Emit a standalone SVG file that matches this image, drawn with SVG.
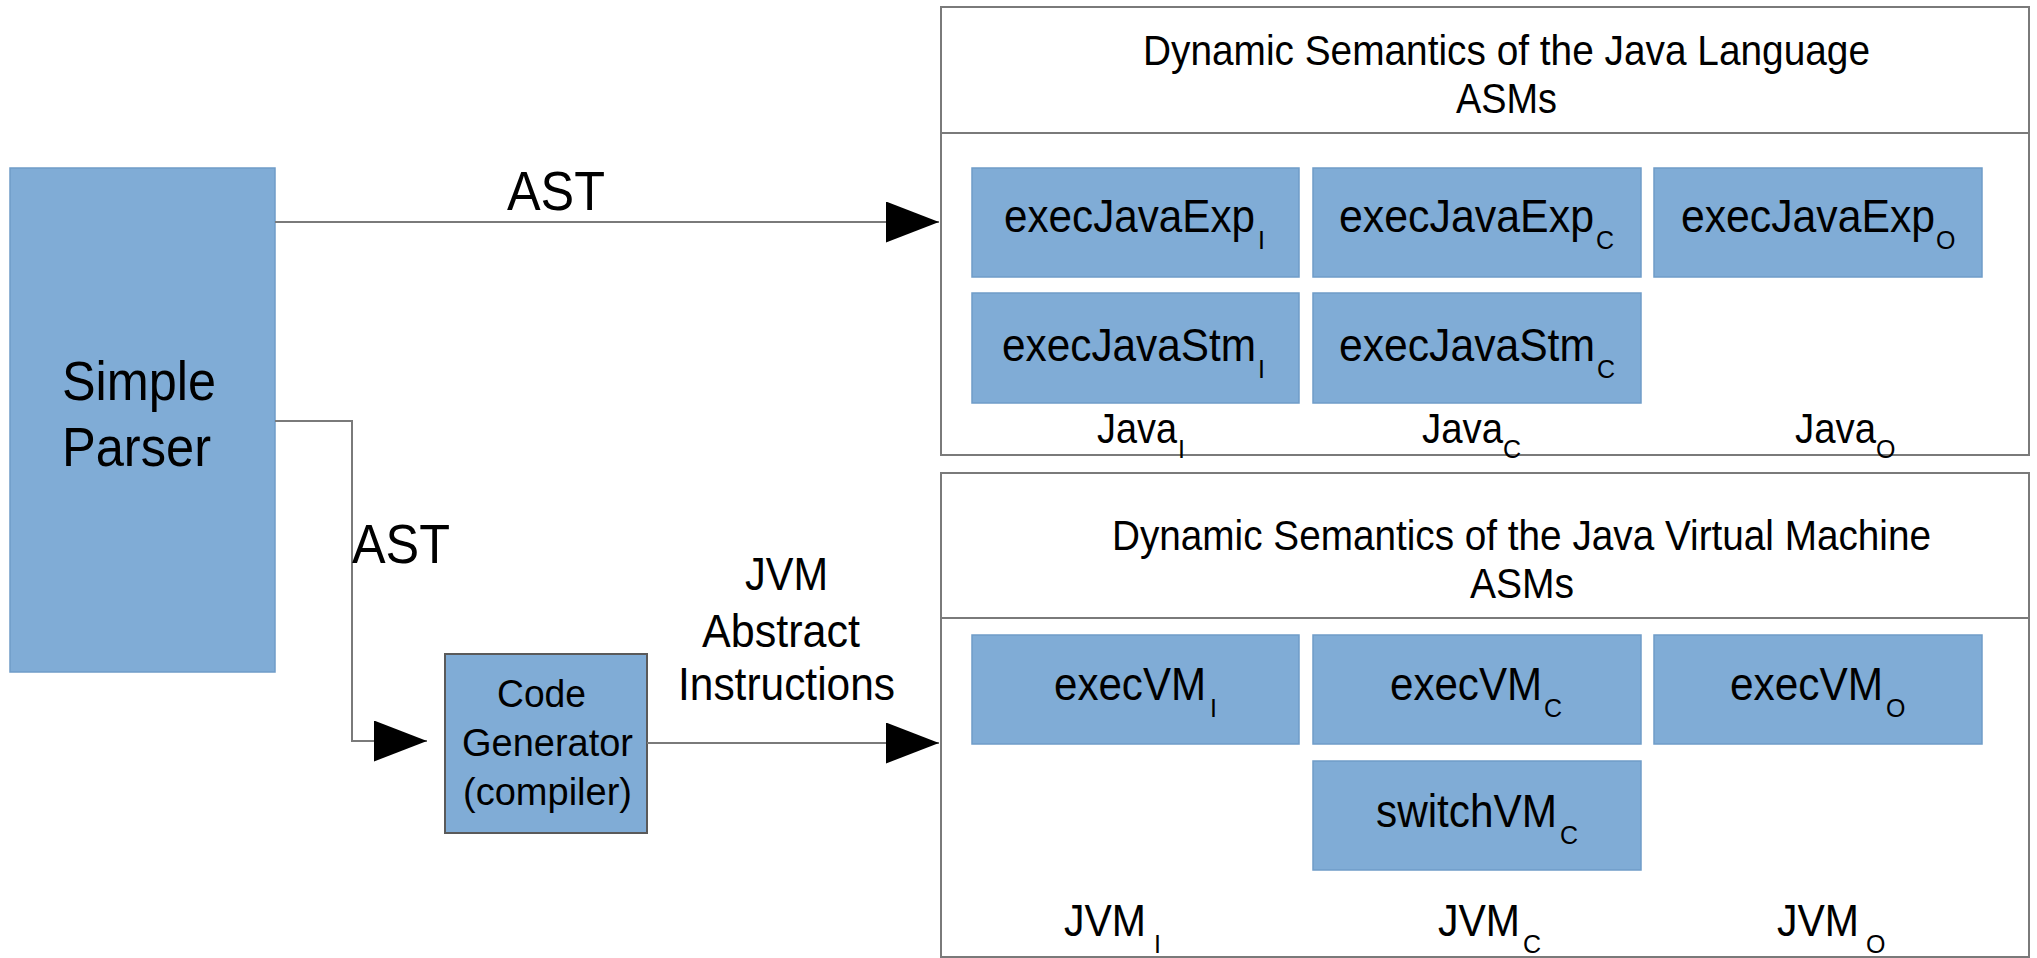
<svg xmlns="http://www.w3.org/2000/svg" width="2037" height="958" viewBox="0 0 2037 958">
<defs>
<style>
text{font-family:"Liberation Sans",Arial,sans-serif;fill:#000}
.blk{fill:#80acd6;stroke:#6f9cc8;stroke-width:1.5}
.cont{fill:#fff;stroke:#7a7a7a;stroke-width:2}
.sep{stroke:#7a7a7a;stroke-width:2}
.conn{fill:none;stroke:#7a7a7a;stroke-width:2}
.t46{font-size:46px}
.t42{font-size:42px}
.t44{font-size:44px}
.t55{font-size:55px}
.t38{font-size:38px}
.sub{font-size:25px}
</style>
<marker id="arr" markerUnits="userSpaceOnUse" markerWidth="54" markerHeight="42" refX="53" refY="20.5" orient="auto">
<path d="M0,0 L53,20.5 L0,41 z" fill="#000"/>
</marker>
</defs>
<rect width="2037" height="958" fill="#fff"/>

<g id="java-asms">
<rect class="cont" x="941" y="7" width="1088" height="448"/>
<line class="sep" x1="941" y1="133" x2="2029" y2="133"/>
<text class="t42" x="1143" y="65" textLength="727" lengthAdjust="spacingAndGlyphs">Dynamic Semantics of the Java Language</text>
<text class="t42" x="1456" y="113" textLength="101" lengthAdjust="spacingAndGlyphs">ASMs</text>
<text class="t42" x="1097" y="443"><tspan textLength="80" lengthAdjust="spacingAndGlyphs">Java</tspan><tspan class="sub" x="1178" y="458">I</tspan></text>
<text class="t42" x="1422" y="443"><tspan textLength="81" lengthAdjust="spacingAndGlyphs">Java</tspan><tspan class="sub" x="1503" y="458">C</tspan></text>
<text class="t42" x="1795" y="443"><tspan textLength="81" lengthAdjust="spacingAndGlyphs">Java</tspan><tspan class="sub" x="1876" y="458">O</tspan></text>
</g>

<g id="execJavaExpI">
<rect class="blk" x="972" y="168" width="327" height="109"/>
<text class="t46" x="1004" y="232"><tspan textLength="251" lengthAdjust="spacingAndGlyphs">execJavaExp</tspan><tspan class="sub" x="1258" y="249">I</tspan></text>
</g>
<g id="execJavaExpC">
<rect class="blk" x="1313" y="168" width="328" height="109"/>
<text class="t46" x="1339" y="232"><tspan textLength="255" lengthAdjust="spacingAndGlyphs">execJavaExp</tspan><tspan class="sub" x="1596" y="249">C</tspan></text>
</g>
<g id="execJavaExpO">
<rect class="blk" x="1654" y="168" width="328" height="109"/>
<text class="t46" x="1681" y="232"><tspan textLength="254" lengthAdjust="spacingAndGlyphs">execJavaExp</tspan><tspan class="sub" x="1936" y="249">O</tspan></text>
</g>
<g id="execJavaStmI">
<rect class="blk" x="972" y="293" width="327" height="110"/>
<text class="t46" x="1002" y="361"><tspan textLength="254" lengthAdjust="spacingAndGlyphs">execJavaStm</tspan><tspan class="sub" x="1258" y="378">I</tspan></text>
</g>
<g id="execJavaStmC">
<rect class="blk" x="1313" y="293" width="328" height="110"/>
<text class="t46" x="1339" y="361"><tspan textLength="256" lengthAdjust="spacingAndGlyphs">execJavaStm</tspan><tspan class="sub" x="1597" y="378">C</tspan></text>
</g>

<g id="jvm-asms">
<rect class="cont" x="941" y="473" width="1088" height="484"/>
<line class="sep" x1="941" y1="618" x2="2029" y2="618"/>
<text class="t42" x="1112" y="550" textLength="819" lengthAdjust="spacingAndGlyphs">Dynamic Semantics of the Java Virtual Machine</text>
<text class="t42" x="1470" y="598" textLength="104" lengthAdjust="spacingAndGlyphs">ASMs</text>
<text class="t44" x="1064" y="936"><tspan textLength="82" lengthAdjust="spacingAndGlyphs">JVM</tspan><tspan class="sub" x="1154" y="953">I</tspan></text>
<text class="t44" x="1438" y="936"><tspan textLength="82" lengthAdjust="spacingAndGlyphs">JVM</tspan><tspan class="sub" x="1523" y="953">C</tspan></text>
<text class="t44" x="1777" y="936"><tspan textLength="82" lengthAdjust="spacingAndGlyphs">JVM</tspan><tspan class="sub" x="1866" y="953">O</tspan></text>
</g>

<g id="execVMI">
<rect class="blk" x="972" y="635" width="327" height="109"/>
<text class="t46" x="1054" y="700"><tspan textLength="152" lengthAdjust="spacingAndGlyphs">execVM</tspan><tspan class="sub" x="1210" y="717">I</tspan></text>
</g>
<g id="execVMC">
<rect class="blk" x="1313" y="635" width="328" height="109"/>
<text class="t46" x="1390" y="700"><tspan textLength="152" lengthAdjust="spacingAndGlyphs">execVM</tspan><tspan class="sub" x="1544" y="717">C</tspan></text>
</g>
<g id="execVMO">
<rect class="blk" x="1654" y="635" width="328" height="109"/>
<text class="t46" x="1730" y="700"><tspan textLength="153" lengthAdjust="spacingAndGlyphs">execVM</tspan><tspan class="sub" x="1886" y="717">O</tspan></text>
</g>
<g id="switchVMC">
<rect class="blk" x="1313" y="761" width="328" height="109"/>
<text class="t46" x="1376" y="827"><tspan textLength="181" lengthAdjust="spacingAndGlyphs">switchVM</tspan><tspan class="sub" x="1560" y="844">C</tspan></text>
</g>

<g id="simple-parser">
<rect class="blk" x="10" y="168" width="265" height="504"/>
<text class="t55" x="62" y="400" textLength="154" lengthAdjust="spacingAndGlyphs">Simple</text>
<text class="t55" x="62" y="466" textLength="149" lengthAdjust="spacingAndGlyphs">Parser</text>
</g>

<g id="code-generator">
<rect x="445" y="654" width="202" height="179" fill="#80acd6" stroke="#5a5a5a" stroke-width="2"/>
<text class="t38" x="497" y="707" textLength="89" lengthAdjust="spacingAndGlyphs">Code</text>
<text class="t38" x="462" y="756" textLength="171" lengthAdjust="spacingAndGlyphs">Generator</text>
<text class="t38" x="463" y="805" textLength="169" lengthAdjust="spacingAndGlyphs">(compiler)</text>
</g>

<g id="connectors">
<line class="conn" x1="275" y1="222" x2="939" y2="222" marker-end="url(#arr)"/>
<polyline class="conn" points="275,421 352,421 352,741 427,741" marker-end="url(#arr)"/>
<line class="conn" x1="647" y1="743" x2="939" y2="743" marker-end="url(#arr)"/>
<text class="t55" x="507" y="210" textLength="98" lengthAdjust="spacingAndGlyphs">AST</text>
<text class="t55" x="352" y="563" textLength="98" lengthAdjust="spacingAndGlyphs">AST</text>
<text class="t46" x="745" y="590" textLength="83" lengthAdjust="spacingAndGlyphs">JVM</text>
<text class="t46" x="702" y="647" textLength="158" lengthAdjust="spacingAndGlyphs">Abstract</text>
<text class="t46" x="678" y="700" textLength="217" lengthAdjust="spacingAndGlyphs">Instructions</text>
</g>
</svg>
